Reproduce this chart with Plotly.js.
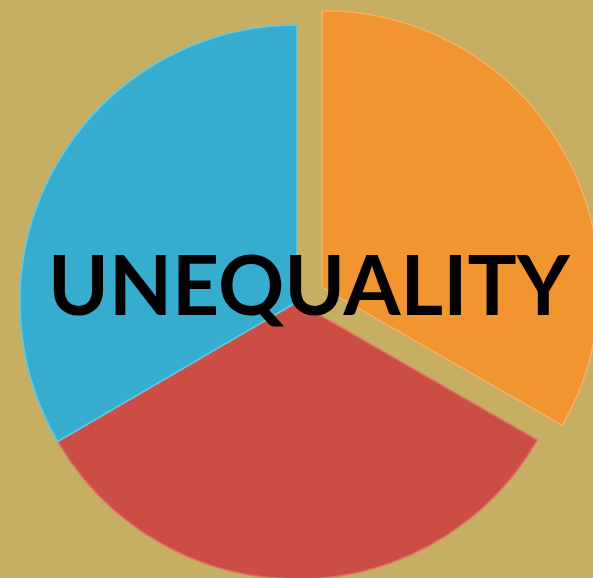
<!DOCTYPE html>
<html>
<head>
<meta charset="utf-8">
<script src="https://cdn.plot.ly/plotly-3.0.1.min.js"></script>
<style>
  html, body { margin: 0; padding: 0; width: 593px; height: 578px; overflow: hidden; background: #c6ae63; }
  #chart { position: absolute; left: -23px; top: -18px; width: 640px; height: 640px; }
</style>
</head>
<body>
<div id="chart"></div>
<script>
const categories = ["Orange", "Red", "Blue"];
const values = [33.3, 33.3, 33.4];
const pulls = [0.105, 0, 0];
const sliceColors = ["#f0952f", "#cb4d44", "#36accf"];
const edgeColors = ["#fbae63", "#e0706a", "#5ccbe8"];
const titleText = "UNEQUALITY";

const data = [{
  type: "pie",
  labels: categories,
  values: values,
  pull: pulls,
  sort: false,
  direction: "clockwise",
  rotation: 0,
  textinfo: "none",
  hoverinfo: "none",
  domain: { x: [0.0217, 0.9783], y: [0.0217, 0.9783] },
  marker: { colors: sliceColors, line: { color: edgeColors, width: 1.5 } }
}];

const layout = {
  width: 640, height: 640,
  margin: { l: 0, r: 0, t: 0, b: 0 },
  paper_bgcolor: "#c6ae63",
  plot_bgcolor: "#c6ae63",
  showlegend: false,
  annotations: [{
    text: titleText,
    xref: "paper", yref: "paper",
    x: 0.520, y: 0.530,
    xanchor: "center", yanchor: "middle",
    showarrow: false,
    font: { family: "Lato, 'Open Sans', sans-serif", size: 82, color: "#000000", weight: 700 }
  }]
};

Plotly.newPlot("chart", data, layout, { staticPlot: true, displayModeBar: false });
</script>
</body>
</html>
